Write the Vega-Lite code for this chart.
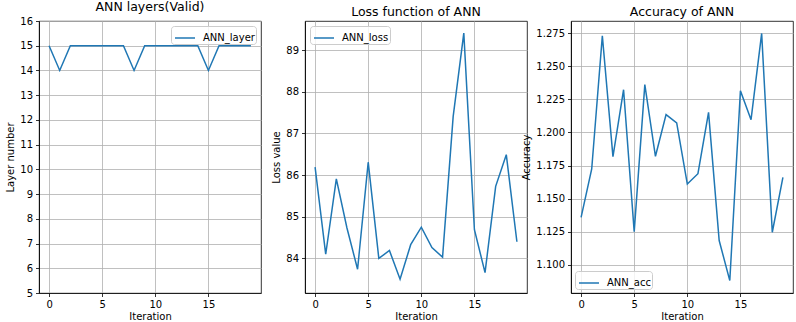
{
  "$schema": "https://vega.github.io/schema/vega-lite/v6.json",
  "padding": {"left": 5, "top": 0, "right": 0, "bottom": 0},
  "background": "white",
  "datasets": {
    "ann": [
      {"iteration": 0, "layer": 15, "loss": 86.19, "acc": 1.1358},
      {"iteration": 1, "layer": 14, "loss": 84.10, "acc": 1.1724},
      {"iteration": 2, "layer": 15, "loss": 85.91, "acc": 1.2732},
      {"iteration": 3, "layer": 15, "loss": 84.73, "acc": 1.1817},
      {"iteration": 4, "layer": 15, "loss": 83.74, "acc": 1.2324},
      {"iteration": 5, "layer": 15, "loss": 86.31, "acc": 1.1250},
      {"iteration": 6, "layer": 15, "loss": 84.00, "acc": 1.2362},
      {"iteration": 7, "layer": 15, "loss": 84.19, "acc": 1.1820},
      {"iteration": 8, "layer": 14, "loss": 83.50, "acc": 1.2135},
      {"iteration": 9, "layer": 15, "loss": 84.33, "acc": 1.2072},
      {"iteration": 10, "layer": 15, "loss": 84.75, "acc": 1.1610},
      {"iteration": 11, "layer": 15, "loss": 84.26, "acc": 1.1688},
      {"iteration": 12, "layer": 15, "loss": 84.03, "acc": 1.2152},
      {"iteration": 13, "layer": 15, "loss": 87.41, "acc": 1.1182},
      {"iteration": 14, "layer": 15, "loss": 89.41, "acc": 1.0879},
      {"iteration": 15, "layer": 14, "loss": 84.69, "acc": 1.2316},
      {"iteration": 16, "layer": 15, "loss": 83.66, "acc": 1.2097},
      {"iteration": 17, "layer": 15, "loss": 85.73, "acc": 1.2750},
      {"iteration": 18, "layer": 15, "loss": 86.49, "acc": 1.1245},
      {"iteration": 19, "layer": 15, "loss": 84.40, "acc": 1.1661}
    ]
  },
  "spacing": 44,
  "bounds": "flush",
  "resolve": {
    "scale": {"color": "independent", "x": "independent", "y": "independent"},
    "legend": {"color": "independent"}
  },
  "hconcat": [
    {
      "title": "ANN layers(Valid)",
      "width": 222,
      "height": 272,
      "data": {"name": "ann"},
      "mark": {"type": "line", "strokeWidth": 1.5},
      "encoding": {
        "x": {"field": "iteration", "type": "quantitative", "title": "Iteration",
              "scale": {"domain": [-0.95, 19.95], "nice": false, "zero": false},
              "axis": {"values": [0, 5, 10, 15]}},
        "y": {"field": "layer", "type": "quantitative", "title": "Layer number",
              "scale": {"domain": [5, 16], "nice": false, "zero": false},
              "axis": {"values": [5, 6, 7, 8, 9, 10, 11, 12, 13, 14, 15, 16]}},
        "color": {"datum": "ANN_layer", "type": "nominal",
                  "scale": {"range": ["#1f77b4"]},
                  "legend": {"title": null, "orient": "top-right", "offset": 5}}
      }
    },
    {
      "title": "Loss function of ANN",
      "width": 222,
      "height": 272,
      "data": {"name": "ann"},
      "mark": {"type": "line", "strokeWidth": 1.5},
      "encoding": {
        "x": {"field": "iteration", "type": "quantitative", "title": "Iteration",
              "scale": {"domain": [-0.95, 19.95], "nice": false, "zero": false},
              "axis": {"values": [0, 5, 10, 15]}},
        "y": {"field": "loss", "type": "quantitative", "title": "Loss value",
              "scale": {"domain": [83.17, 89.70], "nice": false, "zero": false},
              "axis": {"values": [84, 85, 86, 87, 88, 89]}},
        "color": {"datum": "ANN_loss", "type": "nominal",
                  "scale": {"range": ["#1f77b4"]},
                  "legend": {"title": null, "orient": "top-left", "offset": 5}}
      }
    },
    {
      "title": "Accuracy of ANN",
      "width": 222,
      "height": 272,
      "data": {"name": "ann"},
      "mark": {"type": "line", "strokeWidth": 1.5},
      "encoding": {
        "x": {"field": "iteration", "type": "quantitative", "title": "Iteration",
              "scale": {"domain": [-0.95, 19.95], "nice": false, "zero": false},
              "axis": {"values": [0, 5, 10, 15]}},
        "y": {"field": "acc", "type": "quantitative", "title": "Accuracy",
              "scale": {"domain": [1.0785, 1.2844], "nice": false, "zero": false},
              "axis": {"values": [1.1, 1.125, 1.15, 1.175, 1.2, 1.225, 1.25, 1.275], "format": ".3f"}},
        "color": {"datum": "ANN_acc", "type": "nominal",
                  "scale": {"range": ["#1f77b4"]},
                  "legend": {"title": null, "orient": "bottom-left", "offset": 4}}
      }
    }
  ],
  "config": {
    "font": "DejaVu Sans",
    "view": {"stroke": "black", "strokeWidth": 0.8},
    "title": {"fontSize": 12.5, "fontWeight": "normal", "color": "black", "offset": 3},
    "axis": {
      "domainColor": "black", "domainWidth": 0.8,
      "tickColor": "black", "tickWidth": 0.8, "tickSize": 3.5,
      "labelFontSize": 10, "labelColor": "black", "labelPadding": 3,
      "titleFontSize": 10, "titleFontWeight": "normal", "titleColor": "black",
      "gridColor": "#b0b0b0", "gridWidth": 0.8, "gridOpacity": 1
    },
    "axisY": {"titlePadding": 4},
    "axisX": {"titlePadding": 2},
    "legend": {
      "strokeColor": "#cccccc", "fillColor": "rgba(255,255,255,0.8)", "cornerRadius": 3,
      "padding": 1, "symbolType": "stroke", "symbolSize": 400,
      "symbolStrokeWidth": 1.5, "labelFontSize": 10, "labelColor": "black",
      "labelOffset": 7, "symbolOffset": 2
    }
  }
}
